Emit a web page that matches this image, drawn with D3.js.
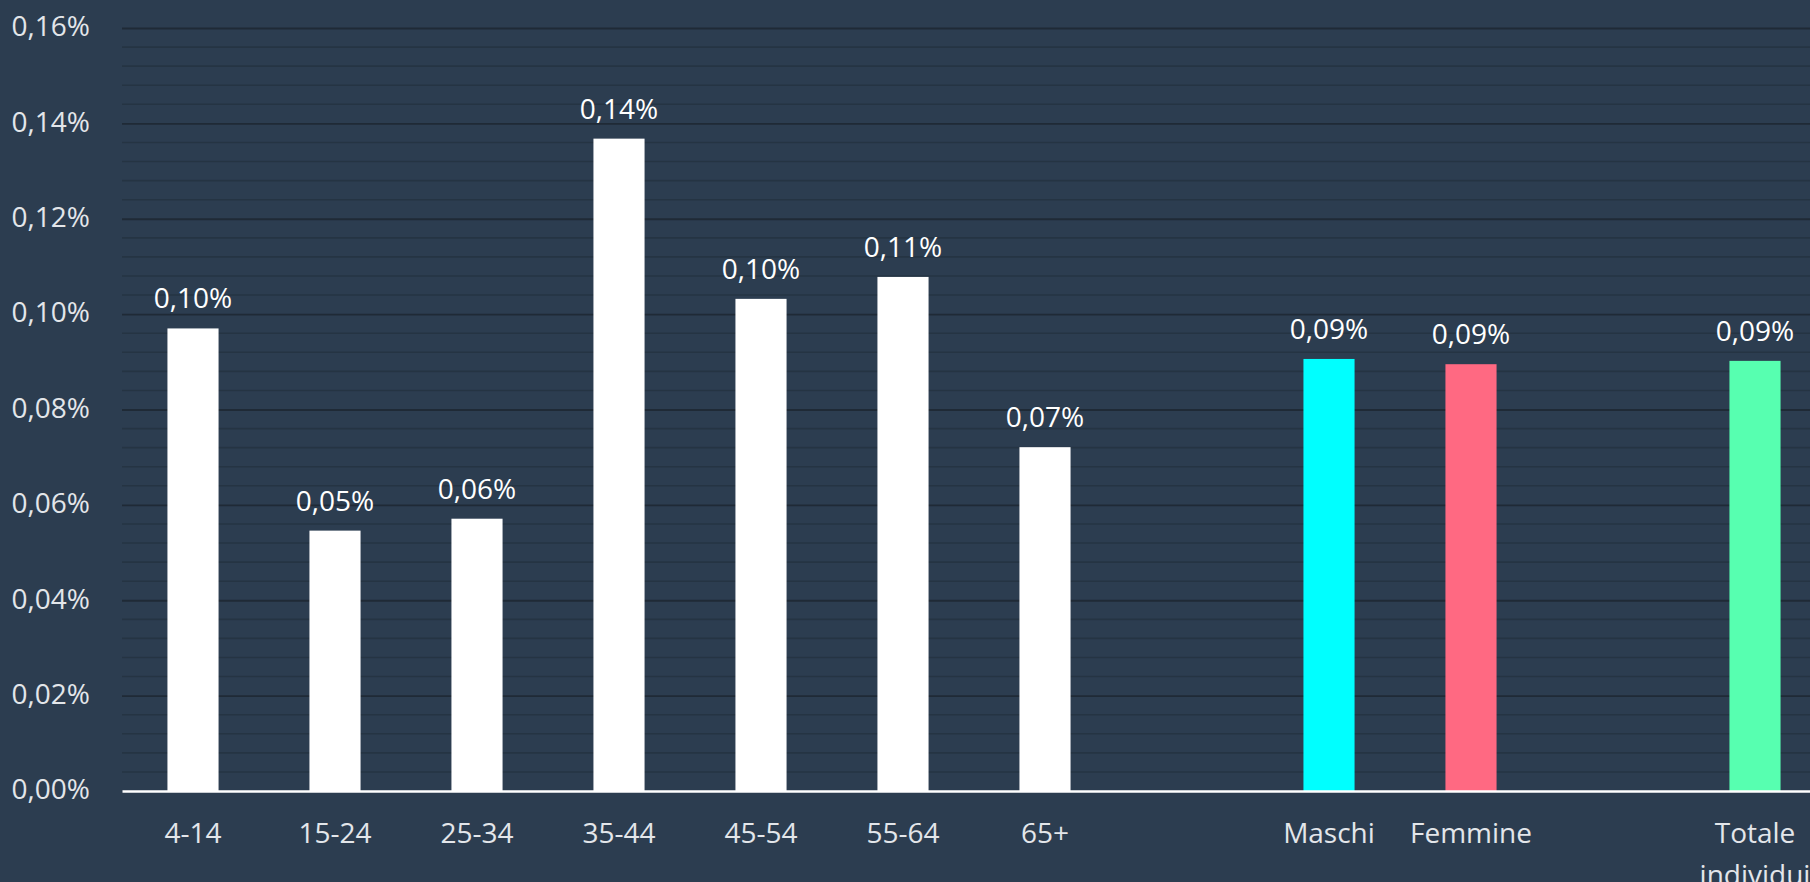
<!DOCTYPE html>
<html>
<head>
<meta charset="utf-8">
<script src="https://cdn.jsdelivr.net/npm/d3@7"></script>
<style>
  html, body { margin: 0; padding: 0; background: #2c3d50; overflow: hidden; }
  svg { display: block; }
  text { font-family: "Open Sans", "Noto Sans", sans-serif; }
</style>
</head>
<body>
<svg id="chart" width="1810" height="882"></svg>
<script>
// ---- data ----
const ageGroups = ["4-14", "15-24", "25-34", "35-44", "45-54", "55-64", "65+"];
const ageValues = [0.000970, 0.000546, 0.000571, 0.001368, 0.001032, 0.001078, 0.000721];
const genders = ["Maschi", "Femmine"];
const genderValues = [0.000906, 0.000895];
const totalLabel = ["Totale individui"];
const totalValues = [0.000902];
const yTicks = [0, 0.0002, 0.0004, 0.0006, 0.0008, 0.0010, 0.0012, 0.0014, 0.0016];

(function () {
const colors = { age: "#ffffff", Maschi: "#00ffff", Femmine: "#ff6982", total: "#57ffb0" };

// ---- build rows ----
const rows = [];
ageGroups.forEach((c, i) => rows.push({ key: c, label: c, value: ageValues[i], color: colors.age }));
rows.push({ key: "_gap1", label: "", value: null });
genders.forEach((c, i) => rows.push({ key: c, label: c, value: genderValues[i], color: colors[c] }));
rows.push({ key: "_gap2", label: "", value: null });
totalLabel.forEach((c, i) => rows.push({ key: c, label: c, value: totalValues[i], color: colors.total }));

const svg = d3.select("#chart");
const mLeft = 122, mTop = 28, mBottom = 791;
const step = 142;
const mRight = mLeft + step * rows.length;

const x = d3.scaleBand()
  .domain(rows.map(d => d.key))
  .range([mLeft, mRight])
  .paddingInner(0.64)
  .paddingOuter(0.32);

const y = d3.scaleLinear().domain([0, 0.0016]).range([mBottom, mTop]);

const fmt = v => d3.format(".2f")(v * 100).replace(".", ",") + "%";

// minor gridlines
const minor = d3.range(0, 0.0016 + 1e-9, 0.00004).filter(v => !yTicks.some(t => Math.abs(t - v) < 1e-9));
svg.append("g").selectAll("line").data(minor).join("line")
  .attr("x1", mLeft).attr("x2", mRight)
  .attr("y1", d => y(d)).attr("y2", d => y(d))
  .attr("stroke", "#253443").attr("stroke-width", 1.6);

// major gridlines + y axis labels
const yAxis = d3.axisLeft(y).tickValues(yTicks).tickFormat(fmt).tickSize(-(mRight - mLeft)).tickPadding(32);
const gy = svg.append("g").attr("transform", `translate(${mLeft},0)`).call(yAxis);
gy.select(".domain").remove();
gy.selectAll(".tick line").attr("stroke", "#1f2a36").attr("stroke-width", 1.8);
gy.selectAll(".tick text")
  .attr("fill", "#e3e6ea").attr("font-size", 28).attr("dy", "0.28em")
  .style("font-family", '"Open Sans", "Noto Sans", sans-serif');
gy.selectAll(".tick").filter(d => d === 0).select("line").remove();

// bars
const data = rows.filter(d => d.value !== null);
svg.append("g").selectAll("rect").data(data).join("rect")
  .attr("x", d => x(d.key))
  .attr("width", x.bandwidth())
  .attr("y", d => y(d.value))
  .attr("height", d => y(0) - y(d.value))
  .attr("fill", d => d.color);

// value labels
svg.append("g").selectAll("text").data(data).join("text")
  .attr("x", d => x(d.key) + x.bandwidth() / 2)
  .attr("y", d => y(d.value) - 20)
  .attr("text-anchor", "middle")
  .attr("fill", "#ffffff")
  .attr("font-size", 28)
  .text(d => fmt(d.value));

// x axis
const xAxis = d3.axisBottom(x).tickSize(0).tickPadding(0)
  .tickFormat(k => (rows.find(r => r.key === k) || {}).label);
const gx = svg.append("g").attr("transform", `translate(0,${mBottom})`).call(xAxis);
gx.select(".domain").attr("stroke", "#ffffff").attr("stroke-width", 2.4);
gx.selectAll(".tick text")
  .attr("fill", "#e3e6ea").attr("font-size", 28)
  .style("font-family", '"Open Sans", "Noto Sans", sans-serif')
  .attr("y", 52).attr("dy", 0)
  .each(function(k) {
    const t = d3.select(this);
    const label = t.text();
    if (this.getComputedTextLength() > step) {
      const words = label.split(" ");
      t.text(null);
      words.forEach((w, i) => {
        t.append("tspan").attr("x", 0).attr("dy", i === 0 ? 0 : 42).text(w);
      });
    }
  });
})();
</script>
</body>
</html>
